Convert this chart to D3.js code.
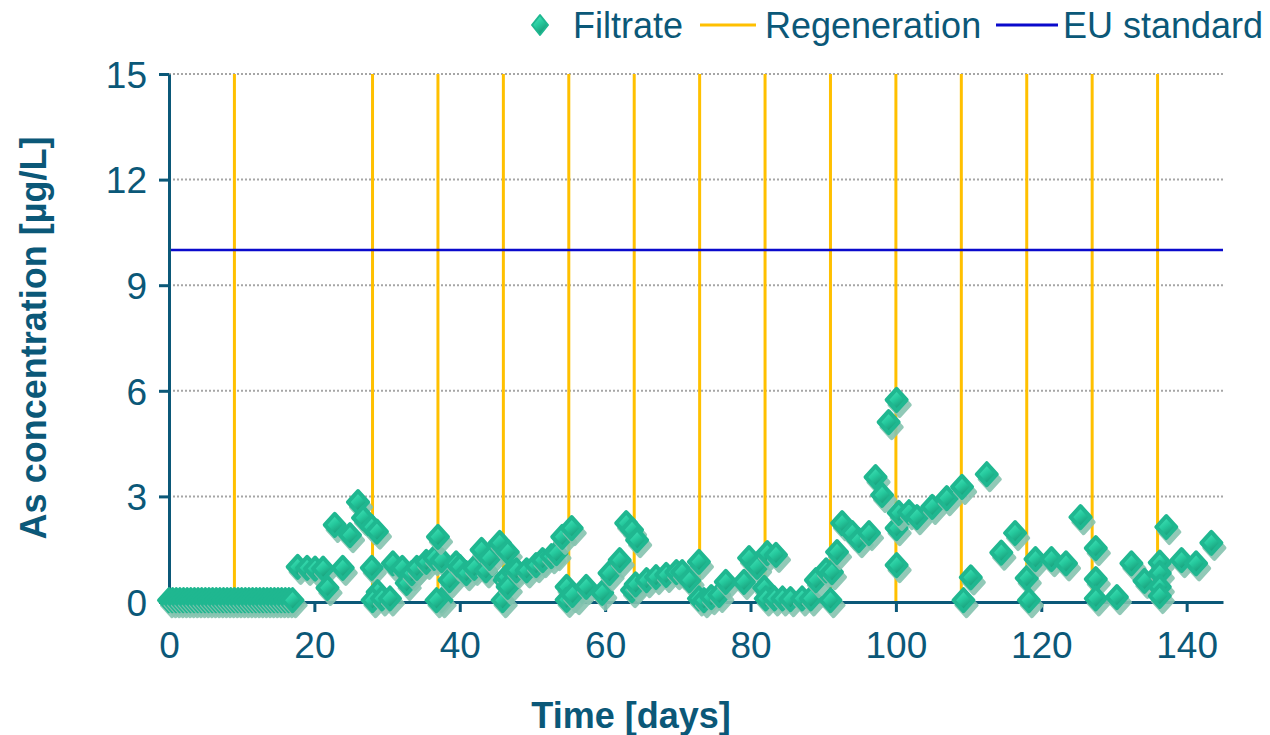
<!DOCTYPE html>
<html>
<head>
<meta charset="utf-8">
<script src="https://cdn.jsdelivr.net/npm/d3@7"></script>
<style>
  body { margin: 0; background: #fff; }
  text { font-family: "Liberation Sans", Arial, sans-serif; fill: #0b5878; }
</style>
</head>
<body>
<script>
// Filtrate As concentration: day and value
let filtrateDays = [
  0, 0.5, 1, 1.5, 2, 2.5, 3, 3.5, 4, 4.5, 5, 5.5, 6, 6.5, 7, 7.5, 8, 8.5,
  9, 9.5, 10, 10.5, 11, 11.5, 12, 12.5, 13, 13.5, 14, 14.5, 15, 15.5, 16, 16.5, 17,
  17.7, 19, 20.1, 21.2, 21.8, 22.8, 23.9, 24.9, 26, 26.7, 27.9, 28.6, 27.9, 28.7, 28,
  29.3, 30.4, 30.8, 32.1, 32.7, 33.4, 34.1, 35.4, 36.5, 37.5, 37, 37.5, 36.8,
  38.6, 39.5, 40, 40.9, 42, 43, 43.6, 44.1, 45.5, 46.2, 46.6, 46.4, 47.3, 45.9, 46.6,
  47.8, 49.2, 50.5, 51.4, 52.6, 53.3, 54.1, 55.4, 54.7, 56, 54.7, 55.5, 57.4, 59.6,
  60.6, 62, 62.9, 63.7, 64.4, 63.7, 64.2, 65.7, 67, 68.4, 69.8, 70.6, 71.6, 72.9,
  72.9, 73.6, 74.6, 75.7, 76.6, 79.1, 79.8, 80.9, 82.3, 83.5, 81.9, 82.1, 83.3, 84.4,
  85.5, 87.1, 88.3, 89, 90.4, 91.2, 91, 91.9, 92.6, 94, 94.9, 96.3, 97.2, 98.1, 99,
  100.1, 100.1, 100.4, 100.1, 101.8, 102.9, 105, 107, 109.1, 109.3, 110.3, 112.5,
  114.5, 116.4, 118, 118.3, 119.2, 121.4, 123.4, 125.4, 127.5, 127.5, 127.5, 130.4,
  132.4, 134.2, 136.3, 136.3, 136.3, 136.3, 137.2, 139.3, 141.3, 143.4
];
let filtrateValues = [
  0.05, 0.05, 0.05, 0.05, 0.05, 0.05, 0.05, 0.05, 0.05, 0.05, 0.05, 0.05, 0.05, 0.05, 0.05, 0.05, 0.05, 0.05,
  0.05, 0.05, 0.05, 0.05, 0.05, 0.05, 0.05, 0.05, 0.05, 0.05, 0.05, 0.05, 0.05, 0.05, 0.05, 0.05, 0.05,
  1.0, 0.97, 0.95, 0.95, 0.4, 2.19, 0.97, 1.9, 2.84, 2.39, 2.13, 2.0, 0.97, 0.28, 0.05,
  0.1, 0.1, 1.1, 0.97, 0.54, 0.82, 0.97, 1.14, 1.25, 1.19, 1.85, 0.05, 0.05,
  0.62, 1.1, 1.0, 0.82, 0.97, 1.48, 0.9, 1.25, 1.68, 0.62, 1.42, 0.71, 0.85, 0.05, 0.43,
  0.9, 0.9, 1.05, 1.19, 1.3, 1.39, 1.85, 2.1, 0.43, 0.14, 0.06, 0.2, 0.43, 0.26,
  0.82, 1.19, 2.24, 2.05, 1.76, 0.34, 0.5, 0.62, 0.71, 0.77, 0.85, 0.85, 0.62, 1.14,
  0.1, 0.05, 0.14, 0.2, 0.57, 0.57, 1.25, 1.0, 1.39, 1.34, 0.4, 0.1, 0.1, 0.1,
  0.08, 0.1, 0.1, 0.62, 0.9, 0.85, 0.05, 1.42, 2.24, 1.96, 1.76, 1.96, 3.55, 3.04, 5.11,
  5.74, 2.1, 2.53, 1.05, 2.55, 2.41, 2.7, 2.95, 3.27, 0.05, 0.7, 3.63,
  1.4, 1.96, 0.68, 0.05, 1.22, 1.22, 1.1, 2.41, 1.53, 0.65, 0.1, 0.14,
  1.1, 0.6, 1.12, 0.82, 0.43, 0.17, 2.13, 1.19, 1.1, 1.68
];
// Regeneration days
let regenerationDays = [9, 28, 37, 46, 55, 64, 73, 82, 91, 100, 109, 118, 127, 136];
// EU standard [µg/L]
let euStandard = 10;
// Ticks
let xTicks = [0, 20, 40, 60, 80, 100, 120, 140];
let yTicks = [0, 3, 6, 9, 12, 15];
let legendLabels = ["Filtrate", "Regeneration", "EU standard"];

let data = filtrateDays.map(function(d, i) { return [d, filtrateValues[i]]; });

// Set the dimensions of the canvas / graph
let margin = {top: 74, right: 47, bottom: 133, left: 169};
let width = 1270 - margin.left - margin.right;
let height = 735 - margin.top - margin.bottom;
let axisColor = "#0b5878";

let x = d3.scaleLinear().domain([0, 145]).range([0, width]);
let y = d3.scaleLinear().domain([0, 15]).range([height, 0]);

let svg = d3.select("body")
  .append("svg")
    .attr("width", 1270)
    .attr("height", 735);

let defs = svg.append("defs");
let grad = defs.append("linearGradient")
    .attr("id", "dia").attr("x1", "0.2").attr("y1", "0").attr("x2", "0.8").attr("y2", "1");
grad.append("stop").attr("offset", "0%").attr("stop-color", "#4ae8be");
grad.append("stop").attr("offset", "45%").attr("stop-color", "#25c99d");
grad.append("stop").attr("offset", "100%").attr("stop-color", "#14896a");

let g = svg.append("g")
    .attr("transform", "translate(" + margin.left + "," + margin.top + ")");

// dotted grid lines
g.append("g").selectAll("line")
  .data(yTicks.filter(function(d) { return d > 0; }))
  .enter().append("line")
    .attr("x1", 0).attr("x2", width)
    .attr("y1", function(d) { return y(d); })
    .attr("y2", function(d) { return y(d); })
    .attr("stroke", "#a6a6a6")
    .attr("stroke-width", 2)
    .attr("stroke-dasharray", "2,2");

// regeneration lines
g.append("g").selectAll("line")
  .data(regenerationDays)
  .enter().append("line")
    .attr("x1", function(d) { return x(d); })
    .attr("x2", function(d) { return x(d); })
    .attr("y1", y(0)).attr("y2", y(15))
    .attr("stroke", "#ffc000")
    .attr("stroke-width", 3);

// EU standard
g.append("line")
    .attr("x1", 0).attr("x2", width)
    .attr("y1", y(euStandard)).attr("y2", y(euStandard))
    .attr("stroke", "#0a0acc")
    .attr("stroke-width", 2.5);

// axes
let xAxis = d3.axisBottom(x).tickValues(xTicks).tickSize(10).tickSizeOuter(0).tickPadding(18);
let yAxis = d3.axisLeft(y).tickValues(yTicks).tickSize(10).tickSizeOuter(0).tickPadding(12);

let gx = g.append("g")
    .attr("transform", "translate(0," + height + ")")
    .call(xAxis);
let gy = g.append("g").call(yAxis);

[gx, gy].forEach(function(a) {
  a.select(".domain").attr("stroke", axisColor).attr("stroke-width", 3);
  a.selectAll(".tick line").attr("stroke", axisColor).attr("stroke-width", 3);
  a.selectAll(".tick text")
    .attr("fill", axisColor)
    .style("font-size", "37px")
    .style("font-family", "'Liberation Sans', Arial, sans-serif");
});
gx.selectAll(".tick text").attr("dy", "0.75em");
gy.selectAll(".tick text").attr("dy", "0.36em");

// diamond marker, rounded corners via the stroke
let dia = "M0,-11L10,0L0,11L-10,0Z";

let pts = g.append("g").selectAll("g")
  .data(data)
  .enter().append("g")
    .attr("transform", function(d) { return "translate(" + x(d[0]) + "," + y(d[1]) + ")"; });
pts.append("path")
    .attr("d", dia)
    .attr("transform", "translate(3,5)")
    .attr("fill", "#86c4b0")
    .attr("stroke", "#86c4b0")
    .attr("stroke-width", 4)
    .attr("stroke-linejoin", "round")
    .attr("opacity", 0.9);
pts.append("path")
    .attr("d", dia)
    .attr("fill", "url(#dia)")
    .attr("stroke", "#1fb790")
    .attr("stroke-width", 4)
    .attr("stroke-linejoin", "round");

// axis titles
svg.append("text")
    .attr("x", 631).attr("y", 728)
    .attr("text-anchor", "middle")
    .style("font-size", "36px").style("font-weight", "bold")
    .text("Time [days]");

svg.append("text")
    .attr("transform", "translate(46,338) rotate(-90)")
    .attr("text-anchor", "middle")
    .style("font-size", "36px").style("font-weight", "bold")
    .text("As concentration [µg/L]");

// legend
let lg = svg.append("g");
lg.append("path").attr("d", "M0,-10L8,0L0,10L-8,0Z")
    .attr("transform", "translate(540,25)")
    .attr("fill", "url(#dia)")
    .attr("stroke", "#1fb790").attr("stroke-width", 2).attr("stroke-linejoin", "round");
lg.append("text").attr("x", 573).attr("y", 38).style("font-size", "36px").text(legendLabels[0]);
lg.append("line").attr("x1", 700).attr("x2", 756).attr("y1", 25).attr("y2", 25)
    .attr("stroke", "#ffc000").attr("stroke-width", 3);
lg.append("text").attr("x", 765).attr("y", 38).style("font-size", "36px").text(legendLabels[1]);
lg.append("line").attr("x1", 996).attr("x2", 1058).attr("y1", 25).attr("y2", 25)
    .attr("stroke", "#0a0acc").attr("stroke-width", 3);
lg.append("text").attr("x", 1063).attr("y", 38).style("font-size", "36px").text(legendLabels[2]);
</script>
</body>
</html>
